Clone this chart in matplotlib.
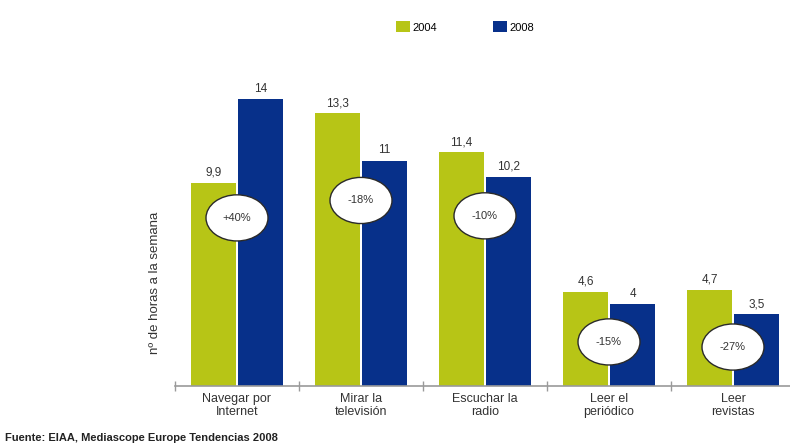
import matplotlib.pyplot as plt
from matplotlib.patches import Ellipse
import numpy as np

plt.rcParams['font.family'] = ['Liberation Sans Narrow', 'Liberation Sans', 'DejaVu Sans']

categories = ['Navegar por\nInternet', 'Mirar la\ntelevisión', 'Escuchar la\nradio',
              'Leer el\nperiódico', 'Leer\nrevistas']
horas_2004 = [9.9, 13.3, 11.4, 4.6, 4.7]
horas_2008 = [14, 11, 10.2, 4, 3.5]
variacion = ['+40%', '-18%', '-10%', '-15%', '-27%']

GREEN = '#b7c516'
BLUE = '#07308a'
TEXT = '#333333'


def fmt(v):
    s = ('%.1f' % v).rstrip('0').rstrip('.')
    return s.replace('.', ',')


def main():
    fig = plt.figure(figsize=(7.9, 4.48), dpi=100, facecolor='w')
    ax = fig.add_axes([175 / 790., 62 / 448., 620 / 790., 328 / 448.])

    x = np.arange(len(categories))
    w = 0.365
    off = 0.19
    b1 = ax.bar(x - off, horas_2004, w, color=GREEN, label='2004', zorder=2)
    b2 = ax.bar(x + off, horas_2008, w, color=BLUE, label='2008', zorder=2)

    for bars, vals in ((b1, horas_2004), (b2, horas_2008)):
        for b, v in zip(bars, vals):
            ax.text(b.get_x() + b.get_width() / 2, v + 0.2, fmt(v),
                    ha='center', va='bottom', fontsize=8.5, color=TEXT)

    # white ovals with the change between years
    oval_y = [8.2, 9.05, 8.3, 2.15, 1.9]
    for xi, yi, lab in zip(x, oval_y, variacion):
        ax.add_patch(Ellipse((xi, yi), 0.5, 2.25, facecolor='white',
                             edgecolor='#2a2a2a', lw=1.0, zorder=3))
        ax.text(xi, yi, lab, ha='center', va='center', fontsize=8,
                color=TEXT, zorder=4)

    ax.set_xlim(-0.5, 4.5)
    ax.set_ylim(0, 16)
    for s in ('top', 'right', 'left'):
        ax.spines[s].set_visible(False)
    ax.spines['bottom'].set_color('#9a9a9a')
    ax.spines['bottom'].set_linewidth(1.2)
    ax.set_yticks([])
    ax.set_xticks(x - 0.5)
    ax.set_xticklabels([])
    ax.set_xticks(x, minor=True)
    ax.set_xticklabels(categories, minor=True, fontsize=9, color=TEXT,
                       linespacing=1.15)
    ax.tick_params(axis='x', which='major', direction='inout', length=7,
                   color='#9a9a9a', width=1)
    ax.tick_params(axis='x', which='minor', length=0, pad=5)

    fig.text(155 / 790., 1 - 283 / 448., 'nº de horas a la semana', rotation=90,
             ha='center', va='center', fontsize=9.5, color=TEXT)

    fig.legend(handles=[b1, b2], loc='center', ncol=2,
               bbox_to_anchor=(465 / 790., 1 - 27 / 448.), frameon=False,
               fontsize=8, handlelength=1.3, handleheight=1.1,
               handletextpad=0.2, columnspacing=5)

    fig.text(5 / 790., 1 - 438 / 448., 'Fuente: EIAA, Mediascope Europe Tendencias 2008',
             ha='left', va='center', fontsize=8, fontweight='bold', color='#222222')

    fig.savefig('out.png', dpi=100)


if __name__ == '__main__':
    main()
